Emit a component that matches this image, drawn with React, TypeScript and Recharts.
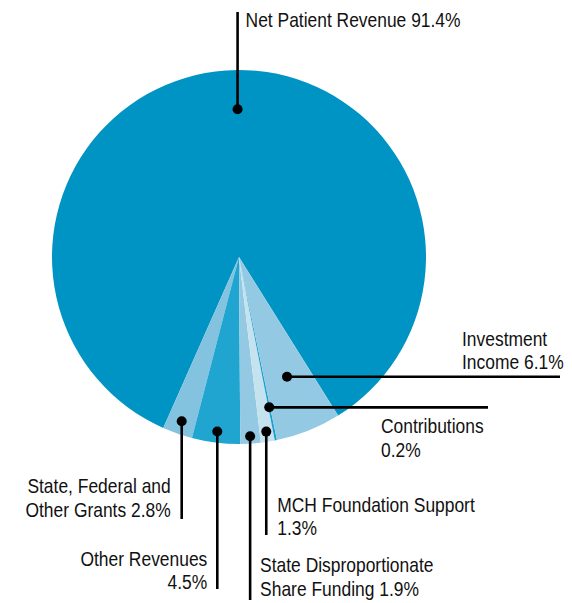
import React from 'react';
import { PieChart, Pie, Cell } from 'recharts';

const CATEGORIES = [
  'Net Patient Revenue',
  'State, Federal and Other Grants',
  'Other Revenues',
  'State Disproportionate Share Funding',
  'MCH Foundation Support',
  'Contributions',
  'Investment Income',
];
const VALUES = [91.4, 2.8, 4.5, 1.9, 1.3, 0.2, 6.1];
const LABEL_LINES = [
  ['Net Patient Revenue 91.4%'],
  ['State, Federal and', 'Other Grants 2.8%'],
  ['Other Revenues', '4.5%'],
  ['State Disproportionate', 'Share Funding 1.9%'],
  ['MCH Foundation Support', '1.3%'],
  ['Contributions', '0.2%'],
  ['Investment', 'Income 6.1%'],
];

const COLORS = ['#0094c4', '#84c3e0', '#20a5d0', '#93c9e2', '#c4e3ef', '#1b9fd1', '#93c9e2'];

const data = CATEGORIES.map((name, i) => ({ name, value: VALUES[i] }));

// leader layout per slice: dot radius (fraction of pie radius), angle nudge, direction, line end, text placement
type Leader = {
  r: number;
  da: number;
  dir: 'up' | 'down' | 'right';
  end: number;
  tx: number; // text x: offset from dot x for vertical leaders, absolute for horizontal
  ty: number[]; // absolute baselines
  anchor: 'start' | 'end';
};
const LEADERS: Leader[] = [
  { r: 0.79, da: -3.5, dir: 'up', end: 12, tx: 8, ty: [27], anchor: 'start' },
  { r: 0.93, da: 0, dir: 'down', end: 519, tx: -11, ty: [493, 517], anchor: 'end' },
  { r: 0.94, da: 0, dir: 'down', end: 589, tx: -10, ty: [566, 589], anchor: 'end' },
  { r: 0.96, da: 0, dir: 'down', end: 600, tx: 10, ty: [572, 596], anchor: 'start' },
  { r: 0.945, da: 0, dir: 'down', end: 535, tx: 11, ty: [512, 535], anchor: 'start' },
  { r: 0.82, da: 0, dir: 'right', end: 488, tx: 381, ty: [433, 457], anchor: 'start' },
  { r: 0.69, da: 0, dir: 'right', end: 560, tx: 462, ty: [346, 369], anchor: 'start' },
];

const RAD = Math.PI / 180;
const FONT = '"Liberation Sans", Arial, sans-serif';

const renderLabel = (props: any) => {
  const { cx, cy, midAngle, outerRadius, index } = props;
  const l = LEADERS[index];
  const a = (midAngle + l.da) * RAD;
  const x = cx + outerRadius * l.r * Math.cos(-a);
  const y = cy + outerRadius * l.r * Math.sin(-a);
  const x2 = l.dir === 'right' ? l.end : x;
  const y2 = l.dir === 'right' ? y : l.end;
  const textX = l.dir === 'right' ? l.tx : x + l.tx;
  return (
    <g key={`lbl-${index}`}>
      <line x1={x} y1={y} x2={x2} y2={y2} stroke="#000" strokeWidth={2.6} />
      <circle cx={x} cy={y} r={5} fill="#000" />
      {LABEL_LINES[index].map((t, j) => (
        <text
          key={j}
          x={0}
          y={0}
          transform={`translate(${textX},${l.ty[j]}) scale(0.85,1)`}
          textAnchor={l.anchor}
          fontFamily={FONT}
          fontSize={20.5}
          fill="#111"
        >
          {t}
        </text>
      ))}
    </g>
  );
};

const App = () => {
  return (
    <div style={{ position: 'absolute', left: 0, top: 0, background: '#fff' }}>
      <PieChart width={572} height={603} margin={{ top: 0, right: 0, bottom: 0, left: 0 }}>
        <Pie
          data={data}
          dataKey="value"
          nameKey="name"
          cx={239}
          cy={257}
          outerRadius={187}
          startAngle={-58}
          endAngle={302}
          stroke="none"
          label={renderLabel}
          labelLine={false}
          isAnimationActive={false}
        >
          {data.map((entry, index) => (
            <Cell key={`cell-${index}`} fill={COLORS[index]} />
          ))}
        </Pie>
      </PieChart>
    </div>
  );
};

export default App;
